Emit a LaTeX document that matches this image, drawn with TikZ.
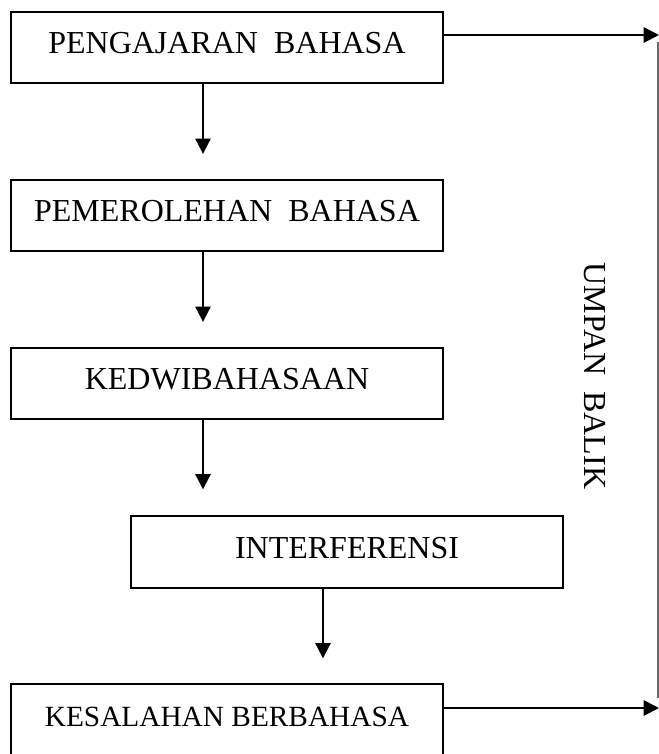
\documentclass[tikz,border=0pt]{standalone}
\usepackage{fontspec}
\setmainfont{Liberation Serif}
\usetikzlibrary{arrows.meta}

\begin{document}
\begin{tikzpicture}[x=0.75pt,y=-0.75pt,
  kotak/.style={draw,line width=1.5pt,rectangle,minimum width=324pt,minimum height=53.5pt,inner sep=0pt,
    text height=16pt,text depth=7pt,font=\fontsize{24}{28}\selectfont},
  panah/.style={line width=1.4pt,-{Triangle[length=11.5pt,width=11.5pt]}},
  umpan/.style={line width=0.8pt,gray!80!black}]
\useasboundingbox (0,0) rectangle (659,754);
\node[kotak] (pengajaran) at (227,47.5) {PENGAJARAN\ \ BAHASA};
\node[kotak] (pemerolehan) at (227,215.5) {PEMEROLEHAN\ \ BAHASA};
\node[kotak] (kedwi) at (227,383.5) {KEDWIBAHASAAN};
\node[kotak] (interferensi) at (347,552) {INTERFERENSI};
\node[kotak,font=\fontsize{22}{26}\selectfont] (kesalahan) at (227,720) {KESALAHAN BERBAHASA};
\node[rotate=-90,font=\fontsize{24}{28}\selectfont] (balik) at (595,376) {UMPAN\ \ BALIK};

\coordinate (ujungatas) at (659,35);
\coordinate (ujungbawah) at (659,708);
\coordinate (umpanatas) at (658,42);
\coordinate (umpanbawah) at (658,698);

\draw[panah] ([xshift=-18pt]pengajaran.south) -- ([xshift=-18pt,yshift=18.75pt]pengajaran.south |- pemerolehan.north);
\draw[panah] ([xshift=-18pt]pemerolehan.south) -- ([xshift=-18pt,yshift=18.75pt]pemerolehan.south |- kedwi.north);
\draw[panah] ([xshift=-18pt]kedwi.south) -- ([xshift=-18pt,yshift=19.5pt]kedwi.south |- interferensi.north);
\draw[panah] ([xshift=-18pt]interferensi.south) -- ([xshift=-18pt,yshift=18.75pt]interferensi.south |- kesalahan.north);
\draw[panah] (pengajaran.east |- ujungatas) -- (ujungatas);
\draw[panah] (kesalahan.east |- ujungbawah) -- (ujungbawah);
\draw[umpan] (umpanatas) -- (umpanbawah);
\end{tikzpicture}
\end{document}
